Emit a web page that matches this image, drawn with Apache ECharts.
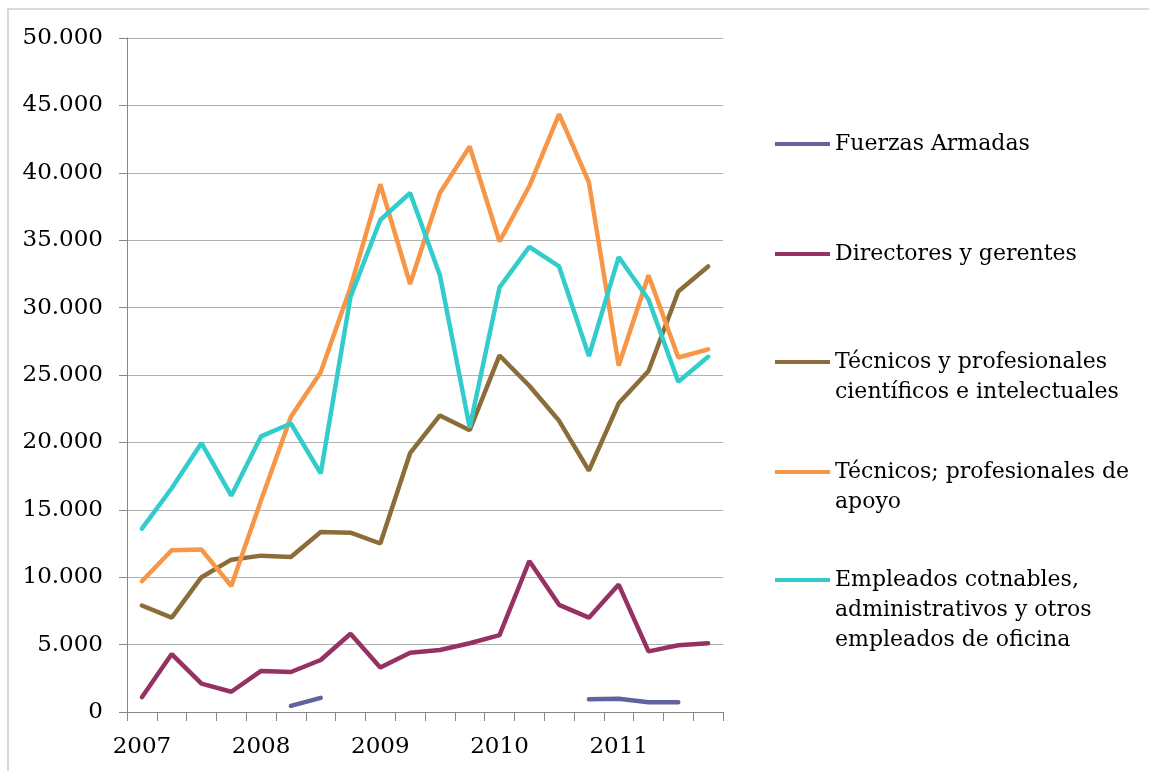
<!DOCTYPE html>
<html>
<head>
<meta charset="utf-8">
<script src="https://cdn.jsdelivr.net/npm/echarts@6/dist/echarts.min.js"></script>
<style>
  html, body { margin: 0; padding: 0; background: #fff; }
  #chart { position: absolute; left: 0; top: 0; width: 1149px; height: 771px; }
  #frame { position: absolute; left: 7px; top: 8px; width: 1142px; height: 763px;
    border-top: 2px solid #d9d9d9; border-left: 2px solid #d9d9d9; pointer-events: none; }
</style>
</head>
<body>
<div id="chart"></div>
<div id="frame"></div>
<script>
// trimestres 2007 T1 .. 2011 T4
const quarters = [
  '2007', '2007T2', '2007T3', '2007T4',
  '2008', '2008T2', '2008T3', '2008T4',
  '2009', '2009T2', '2009T3', '2009T4',
  '2010', '2010T2', '2010T3', '2010T4',
  '2011', '2011T2', '2011T3', '2011T4'
]

const fuerzasArmadas = [null, null, null, null, null, 450, 1050, null, null, null,
  null, null, null, null, null, 950, 980, 720, 720, null]
const directores = [1100, 4300, 2100, 1500, 3050, 2970, 3860, 5800, 3300, 4400,
  4600, 5100, 5700, 11200, 7950, 7000, 9450, 4500, 4950, 5100]
const tecnicosCientificos = [7900, 7000, 10000, 11300, 11600, 11500, 13350, 13300, 12500, 19200,
  22000, 20900, 26450, 24200, 21600, 17900, 22900, 25300, 31200, 33050]
const tecnicosApoyo = [9700, 12000, 12050, 9350, 15700, 21900, 25200, 31500, 39150, 31750,
  38500, 41950, 34900, 39000, 44350, 39300, 25700, 32400, 26300, 26900]
const empleados = [13600, 16600, 19950, 16050, 20450, 21400, 17700, 30800, 36500, 38500,
  32400, 21100, 31500, 34500, 33050, 26400, 33750, 30600, 24500, 26350]

const seriesNames = [
  'Fuerzas Armadas',
  'Directores y gerentes',
  'Técnicos y profesionales\ncientíficos e intelectuales',
  'Técnicos; profesionales de\napoyo',
  'Empleados cotnables,\nadministrativos y otros\nempleados de oficina'
]
const seriesData = [fuerzasArmadas, directores, tecnicosCientificos, tecnicosApoyo, empleados]
const colors = ['#62629f', '#953163', '#8c6d3a', '#f79646', '#33cccc']
// centro vertical del icono de cada entrada de la leyenda
const legendY = [144, 254, 362, 472, 580]

const font = 'DejaVu Serif'
const lineH = 30

const chart = echarts.init(document.getElementById('chart'), null, { renderer: 'canvas' })

const legends = seriesNames.map((name, i) => {
  const extra = name.split('\n').length - 1
  return {
    data: [name],
    orient: 'vertical',
    left: 775,
    top: legendY[i] - lineH / 2 - extra * lineH,
    padding: 0,
    itemWidth: 55,
    itemHeight: 14,
    icon: 'path://M0,5L55,5L55,9L0,9Z',
    selectedMode: false,
    formatter: function(n) {
      const k = n.split('\n').length - 1
      return '\n'.repeat(k) + n
    },
    textStyle: {
      fontFamily: font,
      fontSize: 22,
      lineHeight: lineH,
      color: '#000'
    }
  }
})

chart.setOption({
  animation: false,
  color: colors,
  grid: {
    left: 127,
    right: 426,
    top: 38,
    bottom: 59
  },
  legend: legends,
  xAxis: {
    type: 'category',
    data: quarters,
    boundaryGap: true,
    axisLine: { lineStyle: { color: '#868686', width: 1 } },
    axisTick: { show: true, interval: 0, length: 9, lineStyle: { color: '#868686' } },
    axisLabel: {
      interval: 3,
      margin: 24,
      fontFamily: font,
      fontSize: 23,
      color: '#000',
      formatter: function(v) { return v.slice(0, 4) }
    },
    splitLine: { show: false }
  },
  yAxis: {
    type: 'value',
    min: 0,
    max: 50000,
    interval: 5000,
    axisLine: { show: true, lineStyle: { color: '#868686' } },
    axisTick: { show: true, length: 8, lineStyle: { color: '#868686' } },
    axisLabel: {
      margin: 24,
      fontFamily: font,
      fontSize: 23,
      color: '#000',
      formatter: function(v) {
        return v === 0 ? '0' : (v / 1000).toFixed(0) + '.000'
      }
    },
    splitLine: { lineStyle: { color: '#b0b0b0', width: 1 } }
  },
  series: seriesNames.map((name, i) => ({
    name: name,
    type: 'line',
    data: seriesData[i],
    showSymbol: false,
    symbol: 'none',
    connectNulls: false,
    lineStyle: { width: 4.5, color: colors[i], cap: 'round' }
  }))
})
</script>
</body>
</html>
